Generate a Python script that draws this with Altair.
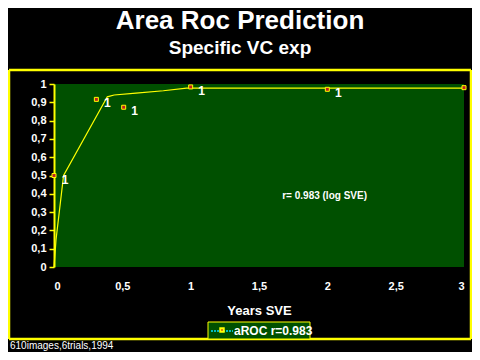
import altair as alt
import pandas as pd

# Observed points
pt_x = [0.0, 0.31, 0.51, 1.0, 2.0, 3.0]
pt_y = [0.50, 0.916, 0.873, 0.984, 0.971, 0.98]
pt_label = ["1", "1", "1", "1", "1", "1"]

# Fitted curve (log SVE)
fit_x = [0.0, 0.015, 0.07, 0.39, 0.44, 0.6, 0.8, 0.97, 3.0]
fit_y = [0.0, 0.15, 0.50, 0.93, 0.94, 0.95, 0.963, 0.977, 0.977]

x_ticks = [0, 0.5, 1, 1.5, 2, 2.5, 3]
y_ticks = [0, 0.1, 0.2, 0.3, 0.4, 0.5, 0.6, 0.7, 0.8, 0.9, 1]

title_text = "Area Roc Prediction"
subtitle_text = "Specific VC exp"
annot_text = "r= 0.983 (log SVE)"
annot_x = [1.98]
annot_y = [0.39]
legend_text = "aROC r=0.983"
footnote = "610images,6trials,1994"

FONT = "Liberation Sans"
YEL = "#ffff00"
GREEN = "#005000"

pts = pd.DataFrame({"x": pt_x, "y": pt_y, "lab": pt_label})
fit = pd.DataFrame({"x": fit_x, "y": fit_y})
one = pd.DataFrame({"a": [0]})

xs = alt.Scale(domain=[0, 3], nice=False)
ys = alt.Scale(domain=[0, 1], nice=False)
LBL = "replace(format(datum.value, '.1~f'), '.', ',')"

xaxis = alt.Axis(values=x_ticks, labelExpr=LBL, title="Years SVE",
                 domain=False, ticks=False, grid=False, labelOverlap=False,
                 labelPadding=13, titlePadding=13)
yaxis = alt.Axis(values=y_ticks, labelExpr=LBL, title=None,
                 domain=True, domainColor=YEL, domainWidth=2, ticks=True,
                 tickColor=YEL, tickSize=5, tickWidth=1.5, grid=False,
                 labelOverlap=False, labelPadding=3)

X = alt.X("x:Q", scale=xs, axis=xaxis)
Y = alt.Y("y:Q", scale=ys, axis=yaxis)

line = alt.Chart(fit).mark_line(color=YEL, strokeWidth=1.2).encode(x=X, y=Y)
points = alt.Chart(pts).mark_square(size=16, fill="#c02020", stroke=YEL,
                                    strokeWidth=1, opacity=1).encode(x=X, y=Y)
labels = alt.Chart(pts).mark_text(color="white", font=FONT, fontWeight="bold",
                                  fontSize=12, dx=11, dy=4).encode(
    x=X, y=Y, text="lab:N")
annot = alt.Chart(pd.DataFrame({"x": annot_x, "y": annot_y, "t": [annot_text]})).mark_text(
    color="white", font=FONT, fontWeight="bold", fontSize=10).encode(
    x=X, y=Y, text="t:N")

# decorations (pixel positions relative to the plot area)
fr_top = alt.Chart(one).mark_rule(color=YEL, strokeWidth=2.5).encode(
    x=alt.value(-45), x2=alt.value(417), y=alt.value(-14))
fr_bot = alt.Chart(one).mark_rule(color=YEL, strokeWidth=2.5).encode(
    x=alt.value(-45), x2=alt.value(417), y=alt.value(255))
fr_left = alt.Chart(one).mark_rule(color=YEL, strokeWidth=2.5).encode(
    x=alt.value(-45), y=alt.value(-14), y2=alt.value(255))
fr_right = alt.Chart(one).mark_rule(color=YEL, strokeWidth=2.5).encode(
    x=alt.value(417), y=alt.value(-14), y2=alt.value(255))
leg_box = alt.Chart(one).mark_rect(fill=GREEN, stroke=YEL, strokeWidth=1).encode(
    x=alt.value(154), x2=alt.value(256), y=alt.value(238), y2=alt.value(255))
leg_line = alt.Chart(one).mark_rule(color="#00e0ff", strokeWidth=1.5, strokeDash=[2, 1]).encode(
    x=alt.value(157), x2=alt.value(179), y=alt.value(247))
leg_sq = alt.Chart(one).mark_square(size=12, fill="#c02020", stroke=YEL, opacity=1).encode(
    x=alt.value(168), y=alt.value(246))
leg_text = alt.Chart(one).mark_text(text=legend_text, color="white", font=FONT,
                                    fontWeight="bold", fontSize=12, align="left",
                                    baseline="middle").encode(
    x=alt.value(180), y=alt.value(247))
title = alt.Chart(one).mark_text(text=title_text, color="white", font=FONT,
                                 fontWeight="bold", fontSize=26, align="center",
                                 baseline="middle").encode(
    x=alt.value(186), y=alt.value(-63))
subtitle = alt.Chart(one).mark_text(text=subtitle_text, color="white", font=FONT,
                                    fontWeight="bold", fontSize=19, align="center",
                                    baseline="middle").encode(
    x=alt.value(186), y=alt.value(-36))
foot = alt.Chart(one).mark_text(text=footnote, color="white", font=FONT,
                                fontSize=10, align="left", baseline="middle").encode(
    x=alt.value(-44), y=alt.value(262))

chart = alt.layer(line, points, labels, annot, fr_top, fr_bot, fr_left, fr_right,
                  leg_box, leg_line, leg_sq, leg_text, title, subtitle, foot).properties(
    width=410, height=183,
    autosize=alt.AutoSizeParams(type="none"),
    padding={"left": 46, "top": 76, "right": 8, "bottom": 85},
    background="black",
).configure_view(fill=GREEN, stroke=None).configure_axis(
    labelColor="white", labelFont=FONT, labelFontWeight="bold", labelFontSize=11,
    titleColor="white", titleFont=FONT, titleFontWeight="bold", titleFontSize=13,
)

chart.save("out.html", embed_options={"renderer": "svg", "actions": False})
